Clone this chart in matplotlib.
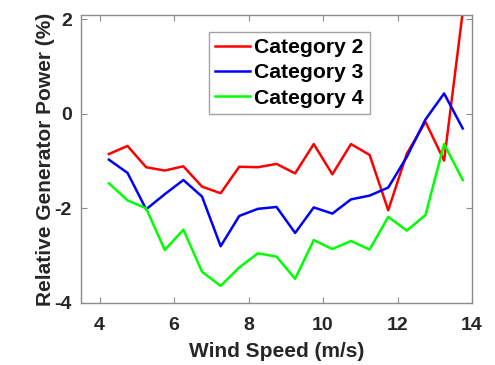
import numpy as np
import matplotlib
matplotlib.use("Agg")
import matplotlib.pyplot as plt

plt.rcParams["font.family"] = ["Liberation Sans", "DejaVu Sans"]
plt.rcParams["font.weight"] = "bold"
plt.rcParams["axes.unicode_minus"] = False

wind_speed = [4.25, 4.75, 5.25, 5.75, 6.25, 6.75, 7.25, 7.75, 8.25, 8.75,
              9.25, 9.75, 10.25, 10.75, 11.25, 11.75, 12.25, 12.75, 13.25, 13.75]

cat2 = [-0.85, -0.68, -1.13, -1.20, -1.11, -1.54, -1.68, -1.12, -1.13, -1.06,
        -1.26, -0.64, -1.28, -0.64, -0.87, -2.04, -0.84, -0.17, -0.99, 2.15]
cat3 = [-0.97, -1.25, -2.02, -1.70, -1.40, -1.75, -2.80, -2.16, -2.01, -1.97,
        -2.52, -1.98, -2.11, -1.81, -1.73, -1.56, -0.91, -0.12, 0.43, -0.31]
cat4 = [-1.47, -1.83, -2.00, -2.88, -2.45, -3.34, -3.64, -3.25, -2.95, -3.02,
        -3.49, -2.67, -2.86, -2.69, -2.87, -2.18, -2.47, -2.14, -0.64, -1.40]

fig = plt.figure(figsize=(4.95, 3.65), dpi=100)
ax = fig.add_axes([0.1636, 0.170, 0.790, 0.789])

ax.plot(wind_speed, cat2, color="#ff0000", lw=1.8, label="Category 2")
ax.plot(wind_speed, cat3, color="#0000ff", lw=1.8, label="Category 3")
ax.plot(wind_speed, cat4, color="#00ff00", lw=1.8, label="Category 4")

ax.set_xlim(3.5, 14)
ax.set_ylim(-4, 2.09)
ax.set_xticks([4, 6, 8, 10, 12, 14])
ax.set_yticks([-4, -2, 0, 2])

for sp in ax.spines.values():
    sp.set_color("#8c8c8c")
    sp.set_linewidth(1.0)
ax.tick_params(direction="in", length=4, width=0.8, color="#8c8c8c",
               top=True, right=True, labelsize=14, labelcolor="#262626")
ax.tick_params(axis="x", pad=10)
ax.tick_params(axis="y", pad=6.5)

ax.set_xlabel("Wind Speed (m/s)", fontsize=15, fontweight="bold", color="#262626",
              labelpad=6)
ax.set_ylabel("Relative Generator Power (%)", fontsize=15, fontweight="bold",
              color="#262626", labelpad=0)

leg = ax.legend(loc="upper left", bbox_to_anchor=(0.327, 0.942), fontsize=15.2,
                frameon=True, fancybox=False, edgecolor="#8c8c8c",
                handlelength=1.65, handletextpad=0.2, borderpad=0.3,
                labelspacing=0.3, borderaxespad=0)
leg.get_frame().set_linewidth(1.0)
for t in leg.get_texts():
    t.set_fontweight("bold")

fig.savefig("out.png", dpi=100)
